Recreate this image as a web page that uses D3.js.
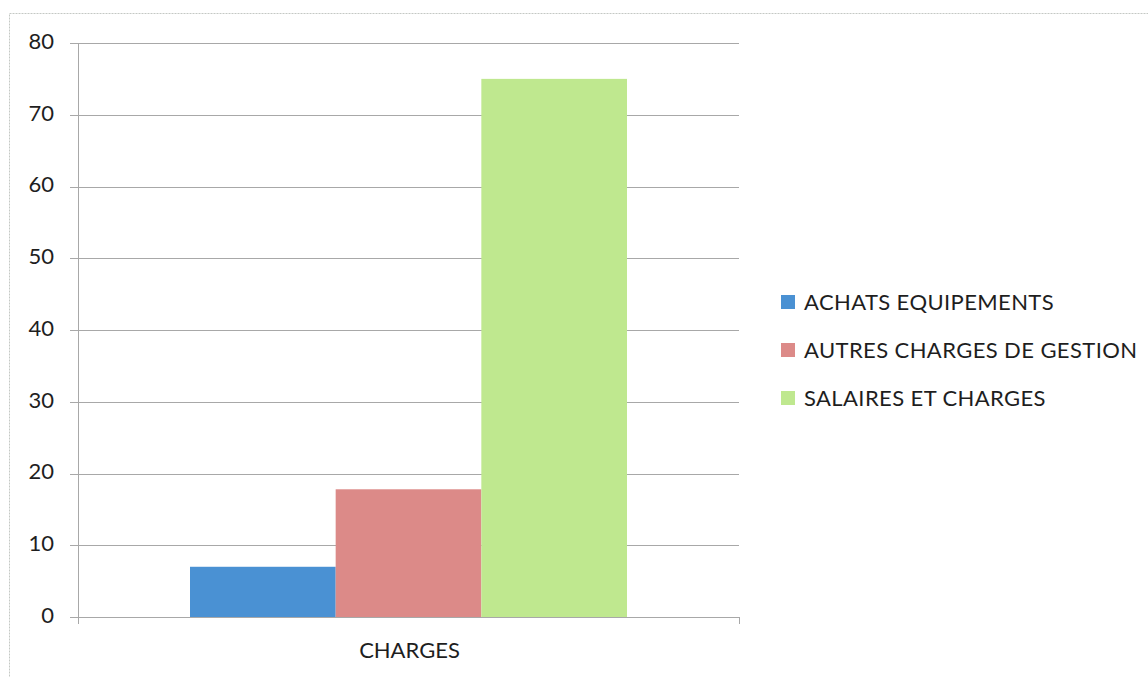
<!DOCTYPE html>
<html lang="fr">
<head>
<meta charset="UTF-8">
<title>Charges</title>
<script src="https://d3js.org/d3.v7.min.js"></script>
<style>
  body { margin: 0; background: #fff; }
  text { font-family: Lato, "Open Sans", sans-serif; fill: #1e1e1e; }
</style>
</head>
<body>
<svg width="1148" height="677"></svg>
<script>
// données
const categories = ["CHARGES"];
const series = ["ACHATS EQUIPEMENTS", "AUTRES CHARGES DE GESTION", "SALAIRES ET CHARGES"];
const values = [7, 17.8, 75];
const colors = ["#4a91d3", "#dc8a88", "#bfe88f"];
const yTicks = [0, 10, 20, 30, 40, 50, 60, 70, 80];

const svg = d3.select("svg");

// cadre extérieur
svg.append("rect")
  .attr("x", 9.5).attr("y", 13.5)
  .attr("width", 1160).attr("height", 700)
  .attr("fill", "none")
  .attr("stroke", "#c4c8c4")
  .attr("stroke-dasharray", "2,1");

const plotLeft = 78, plotRight = 739, plotTop = 43, plotBottom = 617;

const y = d3.scaleLinear().domain([0, 80]).range([plotBottom, plotTop]);
const x0 = d3.scaleBand().domain(categories).range([plotLeft, plotRight]).paddingOuter(0).paddingInner(0);
const x1 = d3.scaleBand().domain(series).range([112, x0.bandwidth() - 112]);

// grille
svg.append("g")
  .selectAll("line")
  .data(yTicks)
  .join("line")
  .attr("x1", plotLeft - 8).attr("x2", plotRight)
  .attr("y1", d => Math.round(y(d)) + 0.5)
  .attr("y2", d => Math.round(y(d)) + 0.5)
  .attr("stroke", "#a8a8a8")
  .attr("stroke-width", 1);

// axe Y
svg.append("line")
  .attr("x1", plotLeft + 0.5).attr("x2", plotLeft + 0.5)
  .attr("y1", plotTop).attr("y2", plotBottom + 7)
  .attr("stroke", "#a8a8a8");
svg.append("line")
  .attr("x1", plotRight + 0.5).attr("x2", plotRight + 0.5)
  .attr("y1", plotBottom).attr("y2", plotBottom + 7)
  .attr("stroke", "#a8a8a8");

svg.append("g")
  .selectAll("text")
  .data(yTicks)
  .join("text")
  .attr("x", 54)
  .attr("y", d => y(d) - 2)
  .attr("dy", "0.36em")
  .attr("text-anchor", "end")
  .attr("font-size", 22)
  .text(d => d);

// barres
const g = svg.append("g")
  .selectAll("g")
  .data(categories)
  .join("g")
  .attr("transform", d => `translate(${x0(d)},0)`);

g.selectAll("rect")
  .data(series.map((s, i) => ({ s, v: values[i], c: colors[i] })))
  .join("rect")
  .attr("x", d => x1(d.s))
  .attr("width", x1.bandwidth())
  .attr("y", d => y(d.v))
  .attr("height", d => y(0) - y(d.v))
  .attr("fill", d => d.c);

// libellé catégorie
svg.append("g")
  .selectAll("text")
  .data(categories)
  .join("text")
  .attr("x", d => x0(d) + x0.bandwidth() / 2 + 1)
  .attr("y", 650)
  .attr("dy", "0.36em")
  .attr("text-anchor", "middle")
  .attr("font-size", 22)
  .text(d => d);

// légende
const leg = svg.append("g")
  .selectAll("g")
  .data(series)
  .join("g")
  .attr("transform", (d, i) => `translate(781,${302 + i * 48})`);

leg.append("rect")
  .attr("x", 0).attr("y", -7)
  .attr("width", 14).attr("height", 14)
  .attr("fill", (d, i) => colors[i]);

leg.append("text")
  .attr("x", 23)
  .attr("y", 0)
  .attr("dy", "0.36em")
  .attr("font-size", 22)
  .attr("letter-spacing", 0.4)
  .text(d => d);
</script>
</body>
</html>
